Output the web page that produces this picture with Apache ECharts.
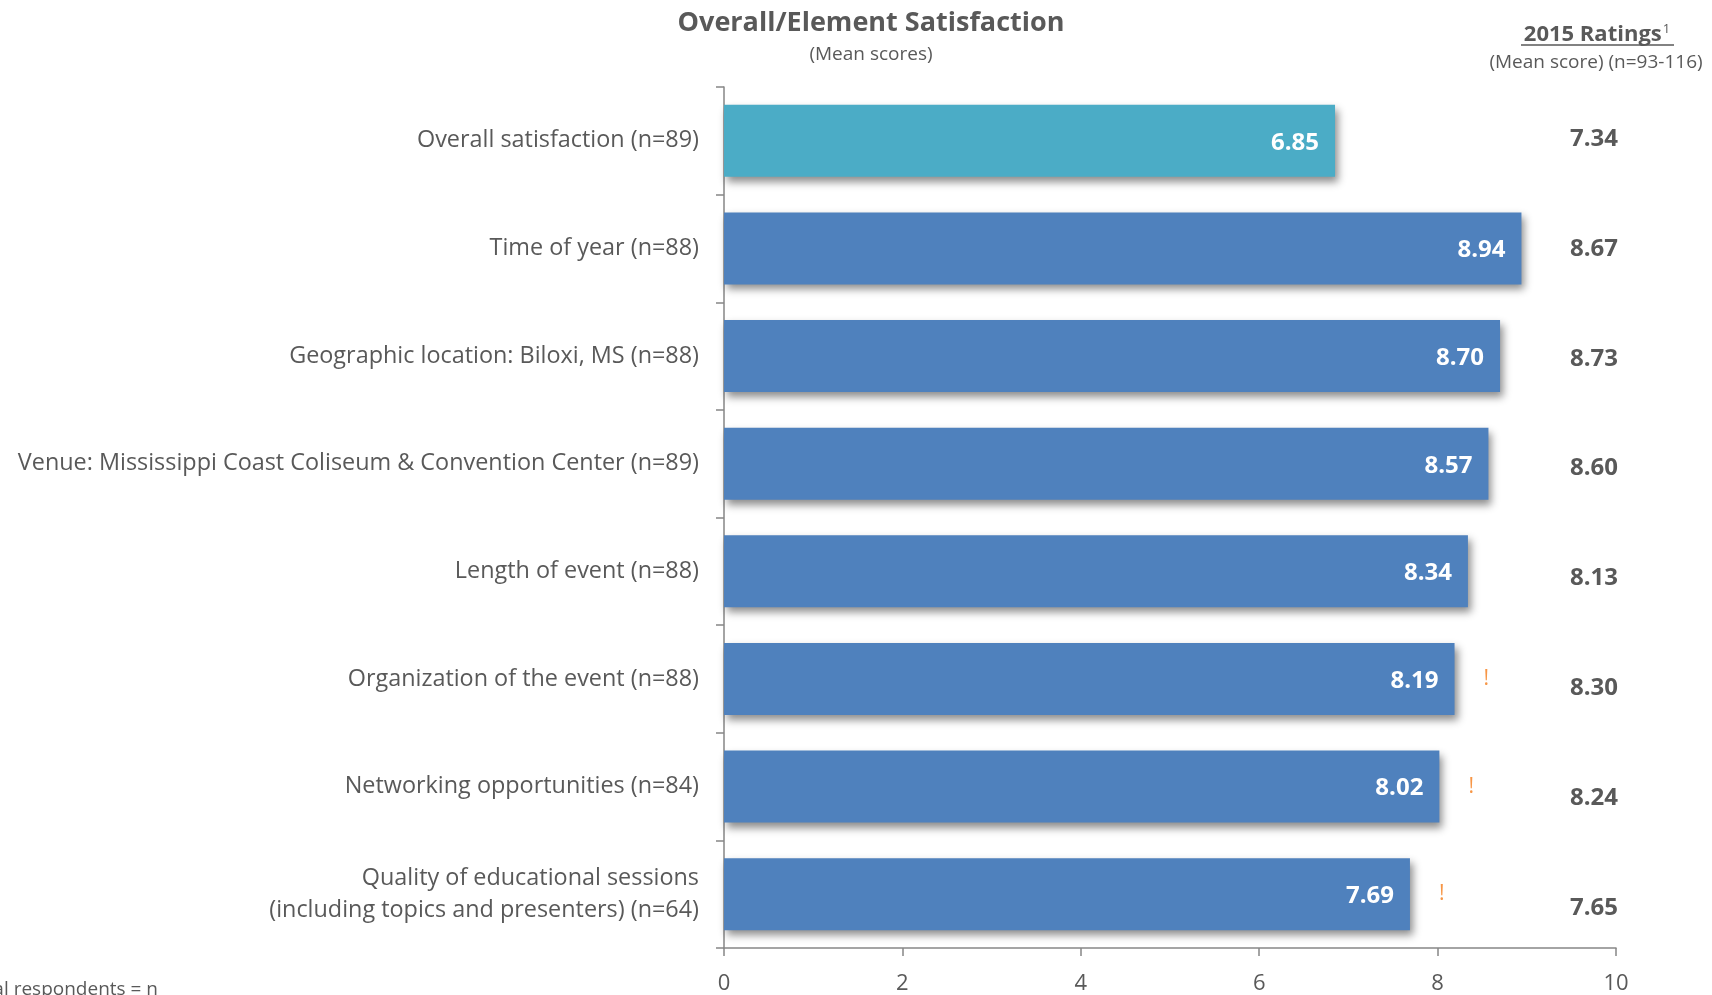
<!DOCTYPE html>
<html>
<head>
<meta charset="utf-8">
<title>Overall/Element Satisfaction</title>
<script src="https://cdn.jsdelivr.net/npm/echarts@6/dist/echarts.min.js"></script>
<style>
  html, body { margin: 0; padding: 0; background: #fff; }
  #chart { width: 1712px; height: 995px; }
</style>
</head>
<body>
<div id="chart"></div>
<script>
// Survey elements, top to bottom
const categories = [
  'Overall satisfaction (n=89)',
  'Time of year (n=88)',
  'Geographic location: Biloxi, MS (n=88)',
  'Venue: Mississippi Coast Coliseum & Convention Center (n=89)',
  'Length of event (n=88)',
  'Organization of the event (n=88)',
  'Networking opportunities (n=84)',
  'Quality of educational sessions\n(including topics and presenters) (n=64)'
];
// Current mean scores (0-10)
const meanScores = [6.85, 8.94, 8.70, 8.57, 8.34, 8.19, 8.02, 7.69];
// Prior-year mean scores
const ratings2015 = ['7.34', '8.67', '8.73', '8.60', '8.13', '8.30', '8.24', '7.65'];
// Items flagged with a "!" marker
const flagged = [false, false, false, false, false, true, true, true];
// Axis ticks
const axisTicks = [0, 2, 4, 6, 8, 10];

const FONT = '"Open Sans", "Noto Sans", sans-serif';
const GREY = '#595959';
const AXIS = '#868686';
const OVERALL_COLOR = '#4BACC6';
const ELEMENT_COLOR = '#4F81BD';

const chart = echarts.init(document.getElementById('chart'), null, { renderer: 'canvas' });

const option = {
  backgroundColor: '#ffffff',
  animation: false,
  textStyle: { fontFamily: FONT },
  grid: [
    { left: 724, right: 96, top: 87, bottom: 46, containLabel: false },
    { left: 1594, width: 1, top: 84, bottom: 32, containLabel: false }
  ],
  xAxis: [
    {
      gridIndex: 0,
      type: 'value',
      min: axisTicks[0],
      max: axisTicks[axisTicks.length - 1],
      interval: 2,
      splitLine: { show: false },
      axisLine: { show: true, lineStyle: { color: AXIS, width: 1.5 } },
      axisTick: { show: true, length: 8, lineStyle: { color: AXIS, width: 1.5 } },
      axisLabel: { color: GREY, fontSize: 22, margin: 25, fontFamily: FONT }
    },
    { gridIndex: 1, type: 'value', show: false, min: 0, max: 1 }
  ],
  yAxis: [
    {
      gridIndex: 0,
      type: 'category',
      data: categories,
      inverse: true,
      axisLine: { show: true, lineStyle: { color: AXIS, width: 1.5 } },
      axisTick: { show: true, length: 8, alignWithLabel: false, lineStyle: { color: AXIS, width: 1.5 } },
      axisLabel: {
        color: GREY, fontSize: 23.4, margin: 25, lineHeight: 32, fontFamily: FONT, align: 'right'
      }
    },
    {
      gridIndex: 1,
      type: 'category',
      data: ratings2015,
      inverse: true,
      axisLine: { show: false },
      axisTick: { show: false },
      axisLabel: {
        color: GREY, fontSize: 24, fontWeight: 'bold', margin: 0, align: 'center', fontFamily: FONT
      }
    }
  ],
  series: [
    {
      name: 'Mean score',
      type: 'bar',
      xAxisIndex: 0,
      yAxisIndex: 0,
      barCategoryGap: '33%',
      data: meanScores.map((v, i) => ({
        value: v,
        itemStyle: { color: i === 0 ? OVERALL_COLOR : ELEMENT_COLOR }
      })),
      itemStyle: {
        shadowColor: 'rgba(0,0,0,0.45)',
        shadowBlur: 8,
        shadowOffsetX: 3,
        shadowOffsetY: 5
      },
      label: {
        show: true,
        position: 'insideRight',
        distance: 16,
        color: '#ffffff',
        fontWeight: 'bold',
        fontSize: 24,
        fontFamily: FONT,
        offset: [0, 2],
        formatter: p => p.value.toFixed(2)
      },
      z: 2
    },
    {
      name: 'Flag',
      type: 'bar',
      xAxisIndex: 0,
      yAxisIndex: 0,
      barCategoryGap: '33%',
      barGap: '-100%',
      data: meanScores,
      itemStyle: { color: 'rgba(0,0,0,0)' },
      silent: true,
      label: {
        show: true,
        position: 'right',
        distance: 29,
        color: '#F79646',
        fontSize: 21,
        fontFamily: FONT,
        offset: [0, 0],
        formatter: p => (flagged[p.dataIndex] ? '!' : '')
      },
      z: 3
    }
  ],
  graphic: [
    {
      type: 'text',
      style: {
        text: 'Overall/Element Satisfaction',
        x: 871, y: 23,
        align: 'center', verticalAlign: 'middle',
        font: 'bold 27px ' + FONT,
        fill: GREY
      }
    },
    {
      type: 'text',
      style: {
        text: '(Mean scores)',
        x: 871, y: 55,
        align: 'center', verticalAlign: 'middle',
        font: '19px ' + FONT,
        fill: GREY
      }
    },
    {
      type: 'text',
      style: {
        text: '{h|2015 Ratings}{s|1}',
        x: 1597, y: 35,
        align: 'center', verticalAlign: 'middle',
        rich: {
          h: { font: 'bold 22px ' + FONT, fill: GREY },
          s: { font: '13px ' + FONT, fill: GREY, padding: [0, 0, 12, 1] }
        }
      }
    },
    {
      type: 'line',
      shape: { x1: 1521, y1: 45, x2: 1674, y2: 45 },
      style: { stroke: GREY, lineWidth: 1.5 }
    },
    {
      type: 'text',
      style: {
        text: '(Mean score) (n=93-116)',
        x: 1596, y: 63,
        align: 'center', verticalAlign: 'middle',
        font: '19px ' + FONT,
        fill: GREY
      }
    },
    {
      type: 'text',
      style: {
        text: 'Total respondents = n',
        x: 158, y: 990,
        align: 'right', verticalAlign: 'middle',
        font: '19px ' + FONT,
        fill: GREY
      }
    }
  ]
};

chart.setOption(option);
</script>
</body>
</html>
